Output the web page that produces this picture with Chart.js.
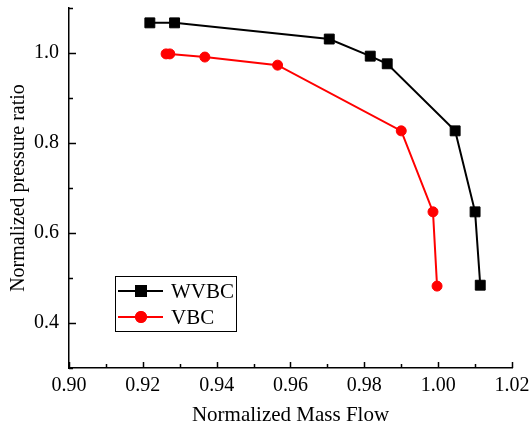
<!DOCTYPE html>
<html>
<head>
<meta charset="utf-8">
<title>Normalized pressure ratio vs mass flow</title>
<script src="https://cdn.jsdelivr.net/npm/chart.js@4.4.0/dist/chart.umd.min.js"></script>
<style>
    html, body { margin: 0; padding: 0; background: #fff; }
    #chart { display: block; }
</style>
</head>
<body>
<canvas id="chart" width="532" height="436"></canvas>
<script>
/* global Chart */
const seriesNames = ['WVBC', 'VBC'];
const wvbcFlow = [0.9219, 0.9286, 0.9705, 0.9816, 0.9862, 1.0046, 1.0100, 1.0114];
const wvbcRatio = [1.067, 1.067, 1.031, 0.993, 0.976, 0.827, 0.647, 0.484];
const vbcFlow = [0.9263, 0.9273, 0.9368, 0.9565, 0.9900, 0.9986, 0.9997];
const vbcRatio = [0.998, 0.998, 0.991, 0.973, 0.827, 0.647, 0.482];
const xTickLabels = ['0.90', '0.92', '0.94', '0.96', '0.98', '1.00', '1.02'];
const yTickLabels = ['0.4', '0.6', '0.8', '1.0'];

(function () {
    const FONT = '"Liberation Serif", "Times New Roman", serif';

    function toPoints(xs, ys) {
        return xs.map((x, i) => ({ x: x, y: ys[i] }));
    }

    function near(list, label) {
        return list.indexOf(label) !== -1;
    }

    // ticks point inward, minor ones shorter
    const innerTicks = {
        id: 'innerTicks',
        afterDraw(chart) {
            const ctx = chart.ctx;
            const xs = chart.scales.x;
            const ys = chart.scales.y;
            const area = chart.chartArea;
            ctx.save();
            ctx.strokeStyle = '#000';
            ctx.lineWidth = 1.5;
            xs.ticks.forEach(t => {
                const px = Math.round(xs.getPixelForValue(t.value)) + 0.5;
                const len = near(xTickLabels, t.value.toFixed(2)) ? 6 : 4;
                ctx.beginPath();
                ctx.moveTo(px, area.bottom);
                ctx.lineTo(px, area.bottom - len);
                ctx.stroke();
            });
            ys.ticks.forEach(t => {
                const py = Math.round(ys.getPixelForValue(t.value)) + 0.5;
                const len = near(yTickLabels, t.value.toFixed(1)) ? 7 : 4;
                ctx.beginPath();
                ctx.moveTo(area.left, py);
                ctx.lineTo(area.left + len, py);
                ctx.stroke();
            });
            ctx.restore();
        }
    };

    // boxed legend sitting inside the plot, lower left
    const boxLegend = {
        id: 'boxLegend',
        afterDraw(chart) {
            const ctx = chart.ctx;
            const box = { x: 115.5, y: 276.5, w: 121, h: 55 };
            ctx.save();
            ctx.strokeStyle = '#000';
            ctx.lineWidth = 1;
            ctx.strokeRect(box.x, box.y, box.w, box.h);
            chart.data.datasets.forEach((ds, i) => {
                const y = 291 + i * 26;
                ctx.strokeStyle = ds.borderColor;
                ctx.lineWidth = ds.borderWidth;
                ctx.beginPath();
                ctx.moveTo(118, y);
                ctx.lineTo(163, y);
                ctx.stroke();
                Chart.helpers.drawPoint(ctx, {
                    pointStyle: ds.pointStyle,
                    radius: ds.pointRadius,
                    borderWidth: ds.pointBorderWidth,
                    rotation: 0
                }, 141, y);
                ctx.fillStyle = ds.pointBackgroundColor;
                ctx.strokeStyle = ds.pointBorderColor;
                ctx.fill();
                ctx.stroke();
                ctx.fillStyle = '#000';
                ctx.font = '21px ' + FONT;
                ctx.textBaseline = 'middle';
                ctx.textAlign = 'left';
                ctx.fillText(ds.label, 171, y + 1);
            });
            ctx.restore();
        }
    };

    function initChart(canvas) {
        if (!canvas || typeof Chart === 'undefined') return;

        new Chart(canvas.getContext('2d'), {
            type: 'scatter',
            data: {
                datasets: [
                    {
                        label: seriesNames[0],
                        data: toPoints(wvbcFlow, wvbcRatio),
                        showLine: true,
                        borderColor: '#000000',
                        borderWidth: 2,
                        pointStyle: 'rect',
                        pointRadius: 7,
                        pointBorderWidth: 1,
                        pointBackgroundColor: '#000000',
                        pointBorderColor: '#000000',
                    },
                    {
                        label: seriesNames[1],
                        data: toPoints(vbcFlow, vbcRatio),
                        showLine: true,
                        borderColor: '#ff0000',
                        borderWidth: 2,
                        pointStyle: 'circle',
                        pointRadius: 5,
                        pointBorderWidth: 1,
                        pointBackgroundColor: '#ff0000',
                        pointBorderColor: '#ff0000',
                    },
                ],
            },
            options: {
                responsive: false,
                animation: false,
                devicePixelRatio: 1,
                layout: { padding: { top: 8, right: 20, bottom: 4, left: 4 } },
                plugins: {
                    legend: { display: false },
                    tooltip: { enabled: false },
                },
                scales: {
                    x: {
                        type: 'linear',
                        min: 0.9,
                        max: 1.02,
                        grid: { display: false, drawTicks: false },
                        border: { display: true, color: '#000', width: 1.5 },
                        ticks: {
                            stepSize: 0.01,
                            autoSkip: false,
                            maxRotation: 0,
                            padding: 6,
                            color: '#000',
                            font: { family: FONT, size: 20 },
                            callback: (v) => {
                                const s = Number(v).toFixed(2);
                                return near(xTickLabels, s) ? s : '';
                            },
                        },
                        title: {
                            display: true,
                            text: 'Normalized Mass Flow',
                            color: '#000',
                            font: { family: FONT, size: 21 },
                            padding: { top: 0, bottom: 4 },
                        },
                        afterFit: (scale) => {
                            scale.height = 436 - 4 - 368;
                            scale.paddingLeft = 0;
                            scale.paddingRight = 0;
                        },
                    },
                    y: {
                        type: 'linear',
                        min: 0.3,
                        max: 1.1,
                        grid: { display: false, drawTicks: false },
                        border: { display: true, color: '#000', width: 1.5 },
                        ticks: {
                            stepSize: 0.1,
                            autoSkip: false,
                            padding: 10,
                            color: '#000',
                            font: { family: FONT, size: 20 },
                            callback: (v) => {
                                const s = Number(v).toFixed(1);
                                return near(yTickLabels, s) ? s : '';
                            },
                        },
                        title: {
                            display: true,
                            text: 'Normalized pressure ratio',
                            color: '#000',
                            font: { family: FONT, size: 20 },
                            padding: { top: 3, bottom: 0 },
                        },
                        afterFit: (scale) => {
                            scale.width = 69 - 4;
                            scale.paddingTop = 0;
                            scale.paddingBottom = 0;
                        },
                    },
                },
            },
            plugins: [innerTicks, boxLegend],
        });
    }

    initChart(document.getElementById('chart'));
})();
</script>
</body>
</html>
